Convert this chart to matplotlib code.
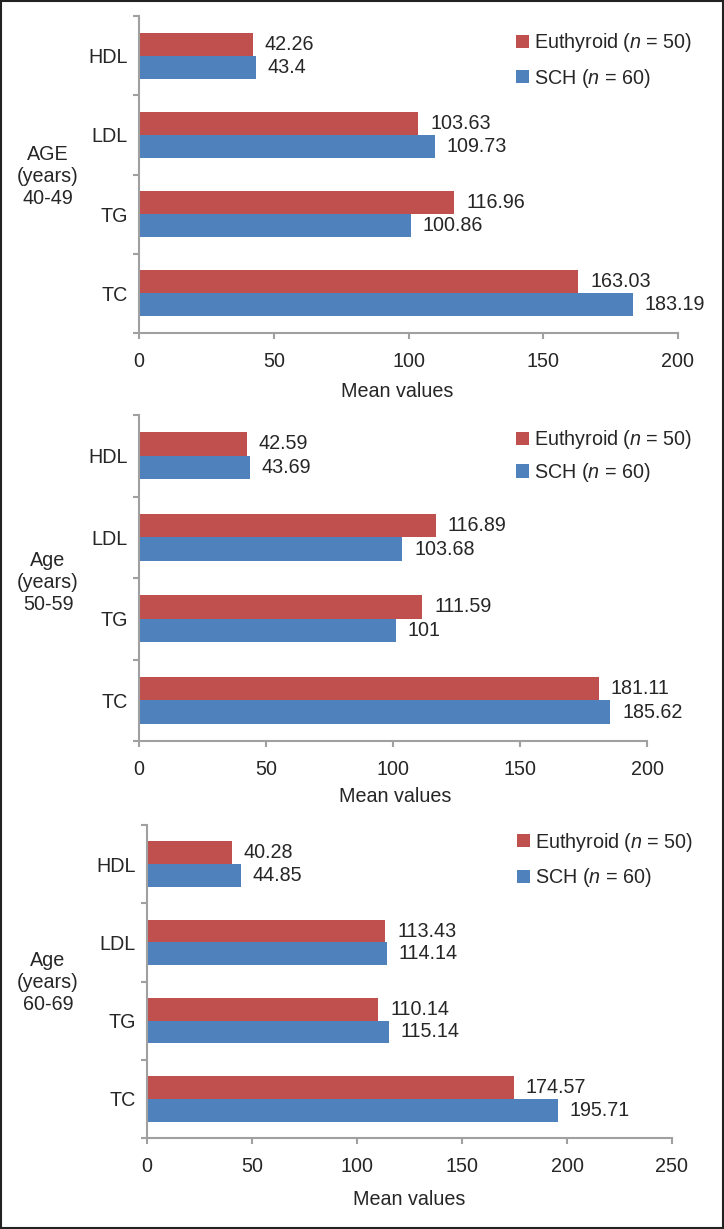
import matplotlib
matplotlib.use("Agg")
import matplotlib.pyplot as plt
from matplotlib.patches import Rectangle
import numpy as np

plt.rcParams['font.family'] = ['Liberation Sans', 'DejaVu Sans']
plt.rcParams['mathtext.fontset'] = 'custom'
plt.rcParams['mathtext.rm'] = 'Liberation Sans'
plt.rcParams['mathtext.it'] = 'Liberation Sans:italic'

# data
categories = ["HDL", "LDL", "TG", "TC"]
age_labels = ["AGE\n(years)\n40-49", "Age\n(years)\n50-59", "Age\n(years)\n60-69"]
euthyroid_40 = [42.26, 103.63, 116.96, 163.03]
sch_40 = [43.4, 109.73, 100.86, 183.19]
euthyroid_50 = [42.59, 116.89, 111.59, 181.11]
sch_50 = [43.69, 103.68, 101, 185.62]
euthyroid_60 = [40.28, 113.43, 110.14, 174.57]
sch_60 = [44.85, 114.14, 115.14, 195.71]
x_max = [200, 200, 250]
legend_labels = [r"Euthyroid ($n$ = 50)", r"SCH ($n$ = 60)"]

RED = "#C0504D"
BLUE = "#4F81BD"
GRAY = "#A0A0A0"
TXT = "#262626"
FS = 14.2

W, H = 724, 1229
fig = plt.figure(figsize=(W / 100, H / 100), dpi=100)

# axes boxes in pixels: left, right, top, bottom
boxes = [(139, 678, 16, 333), (139, 647, 415, 741), (147, 672, 825, 1138)]
ylab_y = [176, 582, 983]
legend_pos = [(516, 60.5, 0.62), (516, 456, 0.5), (517, 860, 0.62)]
xlabel_xy = [(0.479, -0.155), (0.505, -0.141), (0.5, -0.166)]

series = [(euthyroid_40, sch_40), (euthyroid_50, sch_50), (euthyroid_60, sch_60)]

for i, (eu, sc) in enumerate(series):
    l, r, t, b = boxes[i]
    ax = fig.add_axes([l / W, 1 - b / H, (r - l) / W, (b - t) / H])
    y = np.arange(len(categories))
    h = 0.29
    b1 = ax.barh(y - h / 2, eu, height=h, color=RED, label=legend_labels[0])
    b2 = ax.barh(y + h / 2, sc, height=h, color=BLUE, label=legend_labels[1])
    ax.bar_label(b1, labels=[f"{v:g}" for v in eu], padding=8.5, fontsize=FS, color=TXT)
    ax.bar_label(b2, labels=[f"{v:g}" for v in sc], padding=8.5, fontsize=FS, color=TXT)

    ax.set_ylim(len(categories) - 0.5, -0.5)
    ax.set_xlim(0, x_max[i])
    ax.set_xticks(np.arange(0, x_max[i] + 1, 50))
    ax.set_yticks(np.arange(-0.5, len(categories), 1.0))
    ax.set_yticklabels([])
    ax.set_yticks(y, minor=True)
    ax.set_yticklabels(categories, minor=True, fontsize=FS, color=TXT)
    ax.tick_params(axis='y', which='minor', length=0, pad=11 * 0.72)
    ax.tick_params(axis='y', which='major', length=4.5, width=1.5, color=GRAY)
    ax.tick_params(axis='x', length=4.5, width=1.5, color=GRAY, labelsize=FS,
                   labelcolor=TXT, pad=9)
    for s in ("top", "right"):
        ax.spines[s].set_visible(False)
    for s in ("left", "bottom"):
        ax.spines[s].set_color(GRAY)
        ax.spines[s].set_linewidth(1.5)

    ax.set_xlabel("Mean values", fontsize=FS, color=TXT)
    ax.xaxis.set_label_coords(*xlabel_xy[i])

    fig.text(48 / W, 1 - ylab_y[i] / H, age_labels[i], ha='center', va='center',
             multialignment='center', fontsize=FS, color=TXT, linespacing=1.2)

    lx, ly, ls = legend_pos[i]
    ax.legend(loc='center left', bbox_to_anchor=(lx / W, 1 - ly / H),
              bbox_transform=fig.transFigure, frameon=False, fontsize=FS,
              handlelength=0.64, handleheight=0.64, handletextpad=0.25,
              labelspacing=ls, borderpad=0, borderaxespad=0, labelcolor=TXT)

fig.patches.append(Rectangle((0.001, 0.001), 0.998, 0.998, transform=fig.transFigure,
                             fill=False, edgecolor="#222222", linewidth=1.5))

fig.savefig("out.png", dpi=100)
